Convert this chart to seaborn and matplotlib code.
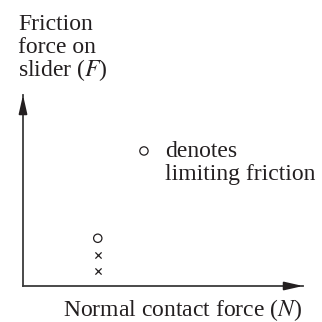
import pandas as pd
import seaborn as sns
from matplotlib import pyplot as plt

# readings at one value of normal contact force
normal_force = [2.67, 2.67, 2.67]
friction = [0.8, 1.6, 2.5]
kind = ["static", "static", "limiting"]
legend_pos = (4.32, 7.07)
y_label_lines = ["Friction", "force on", "slider ($F$)"]
legend_lines = ["denotes", "limiting friction"]

sns.set_style("white")
plt.rcParams['font.family'] = ['Liberation Serif', 'DejaVu Serif']
plt.rcParams['mathtext.fontset'] = 'stix'

ink = "#231f20"
fs = 17
fig = plt.figure(figsize=(3.22, 3.22), dpi=100)
ax = fig.add_axes([23 / 322, 36 / 322, 280 / 322, 191 / 322])

df = pd.DataFrame({"N": normal_force, "F": friction, "kind": kind})
sns.scatterplot(data=df[df.kind == "static"], x="N", y="F", marker="x", s=20,
                color=ink, linewidth=0.9, ax=ax, legend=False)
sns.scatterplot(data=df[df.kind == "limiting"], x="N", y="F", marker="o", s=36,
                facecolor="none", edgecolor=ink, linewidth=0.9, ax=ax, legend=False)
ax.scatter([legend_pos[0]], [legend_pos[1]], marker="o", s=36,
           facecolor="none", edgecolor=ink, linewidth=0.9)

ax.set_xlim(0, 10)
ax.set_ylim(0, 10)
ax.set_xticks([])
ax.set_yticks([])
ax.set_xlabel("")
ax.set_ylabel("")
for s in ["top", "right"]:
    ax.spines[s].set_visible(False)
for s in ["left", "bottom"]:
    ax.spines[s].set_color("#3a3a3a")
    ax.spines[s].set_linewidth(1.3)

# arrow heads on the axes
head = "-|>,head_length=1.1,head_width=0.25"
ax.annotate("", xy=(1.0, 0), xytext=(0.94, 0), xycoords="axes fraction",
            arrowprops=dict(arrowstyle=head, color=ink, lw=1.3, shrinkA=0, shrinkB=0))
ax.annotate("", xy=(0, 1.0), xytext=(0, 0.92), xycoords="axes fraction",
            arrowprops=dict(arrowstyle=head, color=ink, lw=1.3, shrinkA=0, shrinkB=0))

for i, line in enumerate(y_label_lines):
    fig.text(18 / 322, 1 - (30 + 23 * i) / 322, line, fontsize=fs,
             color=ink, va="baseline", ha="left")
for i, line in enumerate(legend_lines):
    fig.text(165 / 322, 1 - (157 + 23 * i) / 322, line, fontsize=fs,
             color=ink, va="baseline", ha="left")
fig.text(63 / 322, 1 - 316 / 322, "Normal contact force ($N$)", fontsize=fs,
         color=ink, va="baseline", ha="left")

fig.savefig("out.png", dpi=100)
